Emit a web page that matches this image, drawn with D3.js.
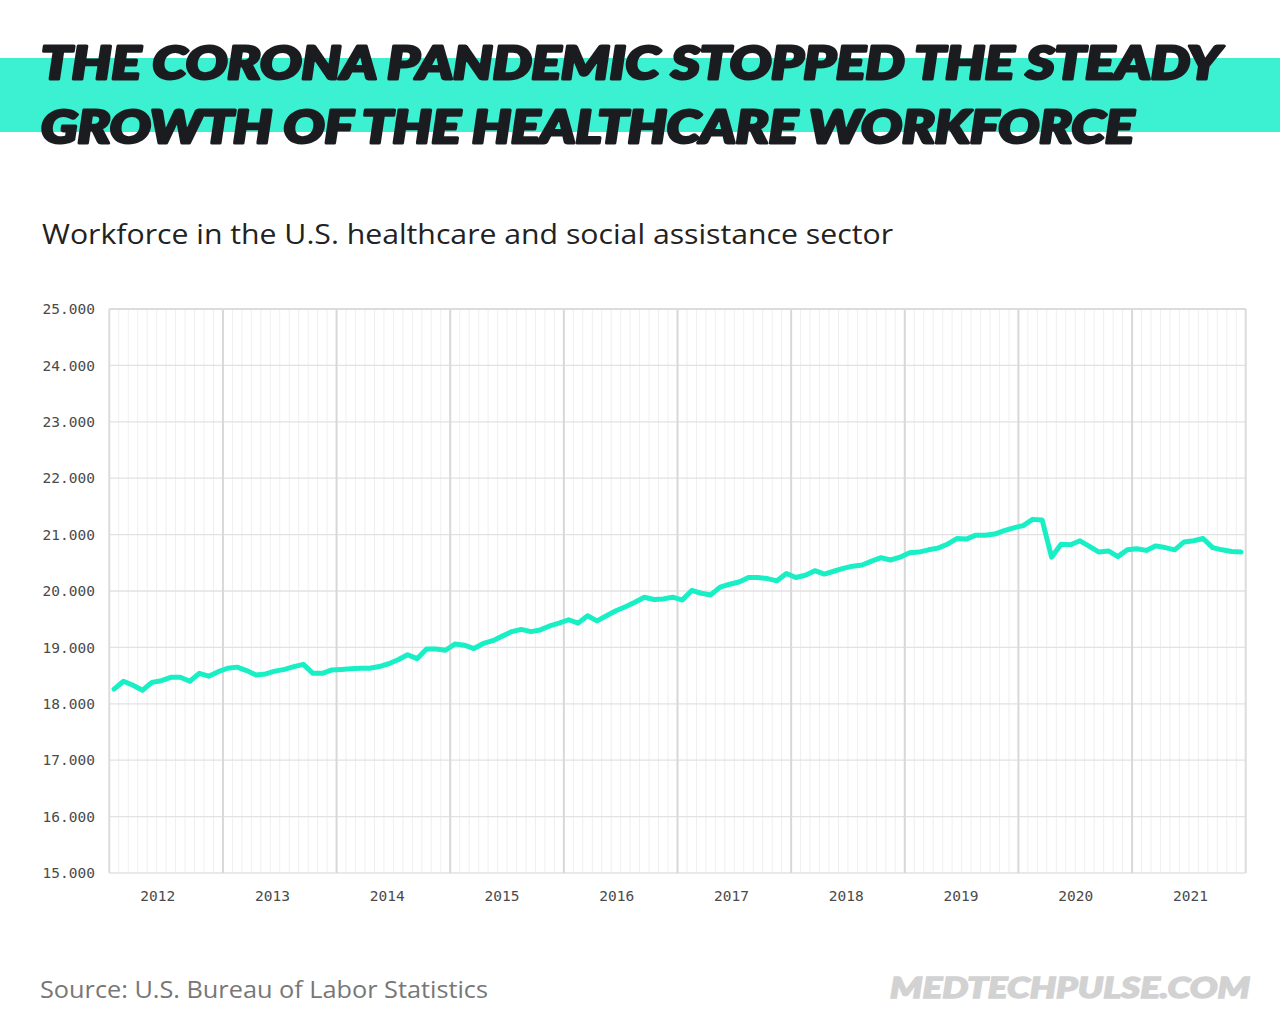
<!DOCTYPE html>
<html><head><meta charset="utf-8">
<script src="https://cdn.jsdelivr.net/npm/d3@7"></script>
<style>body{margin:0;background:#fff}svg{display:block}</style>
</head><body><svg id="c" width="1280" height="1024"></svg>
<script>
// ---- data (employees, thousands) ----
const titleLines = ["THE CORONA PANDEMIC STOPPED THE STEADY", "GROWTH OF THE HEALTHCARE WORKFORCE"];
const subtitle = "Workforce in the U.S. healthcare and social assistance sector";
const sourceText = "Source: U.S. Bureau of Labor Statistics";
const brandText = "MEDTECHPULSE.COM";
const yearLabels = ["2012","2013","2014","2015","2016","2017","2018","2019","2020","2021"];
const yTicks = [15000,16000,17000,18000,19000,20000,21000,22000,23000,24000,25000];
const workforce = [
  18260,18400,18330,18240,18380,18410,18470,18470,18400,18540,18490,18570,
  18630,18650,18590,18510,18530,18580,18610,18660,18700,18540,18540,18600,
  18610,18620,18630,18630,18660,18710,18780,18870,18800,18970,18970,18950,
  19060,19040,18980,19070,19120,19200,19280,19320,19280,19310,19380,19430,
  19490,19430,19560,19470,19560,19650,19720,19800,19890,19850,19860,19890,
  19840,20010,19960,19930,20070,20120,20160,20240,20240,20220,20180,20310,
  20240,20280,20360,20300,20350,20400,20440,20460,20530,20590,20550,20600,
  20680,20690,20730,20760,20830,20930,20920,20990,20990,21010,21070,21120,
  21160,21270,21260,20600,20830,20820,20890,20790,20690,20710,20610,20730,
  20750,20720,20800,20770,20730,20870,20890,20930,20770,20730,20700,20690
];
const months = d3.timeMonths(new Date(2012,0,1), new Date(2022,0,1));

// ---- layout ----
const svg = d3.select("#c");
const L = 109.3, R = 1245.7, T = 309, B = 873;
const x = d3.scaleBand().domain(months.map((d,i)=>i)).range([L,R]).paddingInner(0).paddingOuter(0);
const y = d3.scaleLinear().domain([15000,25000]).range([B,T]);
const xLab = d3.scalePoint().domain(yearLabels).range([157.7,1190.5]);
const fmt = d3.formatLocale({decimal:",",thousands:".",grouping:[3],currency:["",""]}).format(",d");

// title band
svg.append("rect").attr("x",0).attr("y",58).attr("width",1280).attr("height",74).attr("fill","#3cf0d2");
const tl = [{t:titleLines[0],y:79,w:1180},{t:titleLines[1],y:143,w:1093}];
svg.selectAll("text.title").data(tl).join("text").attr("class","title")
  .attr("x",41).attr("y",d=>d.y).text(d=>d.t)
  .attr("textLength",d=>d.w).attr("lengthAdjust","spacingAndGlyphs")
  .style("font-family","Lato, 'DejaVu Sans', sans-serif").style("font-weight",900)
  .style("font-style","italic").style("font-size","45px")
  .attr("fill","#1b1c20").attr("stroke","#1b1c20").attr("stroke-width",3).attr("stroke-linejoin","round");

svg.append("text").attr("x",42).attr("y",244).text(subtitle)
  .attr("textLength",851).attr("lengthAdjust","spacingAndGlyphs")
  .style("font-family","'Open Sans', Roboto, sans-serif").style("font-size","28px").attr("fill","#222");

// grid: minor monthly
const g = svg.append("g");
g.selectAll("line.minor").data(months.map((d,i)=>i).filter(i=>i%12!==0)).join("line")
  .attr("x1",i=>x(i)).attr("x2",i=>x(i)).attr("y1",T).attr("y2",B)
  .attr("stroke","#efefef").attr("stroke-width",1);
// horizontal
g.selectAll("line.h").data(yTicks).join("line")
  .attr("x1",L).attr("x2",R).attr("y1",d=>y(d)).attr("y2",d=>y(d))
  .attr("stroke","#e2e2e2").attr("stroke-width",1.3);
// year lines
g.selectAll("line.year").data(months.map((d,i)=>i).filter(i=>i%12===0 && i>0)).join("line")
  .attr("x1",i=>x(i)).attr("x2",i=>x(i)).attr("y1",T).attr("y2",B)
  .attr("stroke","#d8d8d8").attr("stroke-width",2);
// frame
g.append("line").attr("x1",L).attr("x2",L).attr("y1",T).attr("y2",B).attr("stroke","#dcdcdc").attr("stroke-width",2);
g.append("line").attr("x1",R).attr("x2",R).attr("y1",T).attr("y2",B).attr("stroke","#dcdcdc").attr("stroke-width",2);
g.append("line").attr("x1",L).attr("x2",R).attr("y1",T).attr("y2",T).attr("stroke","#dcdcdc").attr("stroke-width",2);

// y labels
svg.selectAll("text.yl").data(yTicks).join("text").attr("class","yl")
  .attr("x",95).attr("y",d=>y(d)).attr("dy","0.36em").attr("text-anchor","end").text(d=>fmt(d))
  .style("font-family","'DejaVu Sans Mono', monospace").style("font-size","14.5px").attr("fill","#4a4a4a");
// x labels
svg.selectAll("text.xl").data(yearLabels).join("text").attr("class","xl")
  .attr("x",d=>xLab(d)).attr("y",901).attr("text-anchor","middle").text(d=>d)
  .style("font-family","'DejaVu Sans Mono', monospace").style("font-size","14.5px").attr("fill","#4a4a4a");

// line
const line = d3.line().x((d,i)=>x(i)+x.bandwidth()/2).y(d=>y(d)).curve(d3.curveLinear);
svg.append("path").datum(workforce).attr("d",line).attr("fill","none")
  .attr("stroke","#18efc5").attr("stroke-width",5).attr("stroke-linejoin","round").attr("stroke-linecap","round");

// footer
svg.append("text").attr("x",40).attr("y",998).text(sourceText)
  .attr("textLength",448).attr("lengthAdjust","spacingAndGlyphs")
  .style("font-family","'Open Sans', Roboto, sans-serif").style("font-size","24px").attr("fill","#777");
svg.append("text").attr("x",1250).attr("y",998).attr("text-anchor","end").text(brandText)
  .attr("textLength",360).attr("lengthAdjust","spacingAndGlyphs")
  .style("font-family","Lato, 'DejaVu Sans', sans-serif").style("font-weight",900).style("font-style","italic")
  .style("font-size","29px").attr("fill","#d2d2d2").attr("stroke","#d2d2d2").attr("stroke-width",1.5);
</script></body></html>
